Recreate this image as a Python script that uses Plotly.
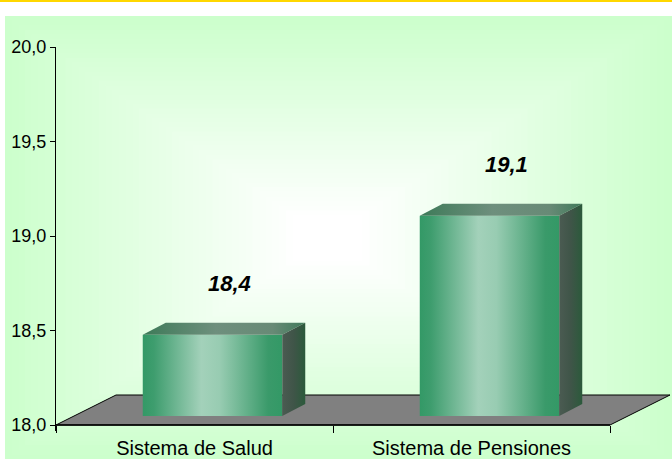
import plotly.graph_objects as go

# ---------------- data ----------------
categories = ["Sistema de Salud", "Sistema de Pensiones"]
values = [18.43, 19.06]
y_ticks = [18.0, 18.5, 19.0, 19.5, 20.0]
y_min, y_max = 18.0, 20.0

# ---------------- geometry / style ----------------
W, H = 672, 459
L_PX, T_PX, B_PX = 56, 47, 425          # plot-area pixel anchors (y_max at T_PX, y_min at B_PX)
px_per_cat = 277.0
px_per_unit = (B_PX - T_PX) / (y_max - y_min)
y_lo = y_min - 5.5 / px_per_unit         # small pad so floor edge is not clipped

x_lo = -0.5
x_hi = x_lo + (W - L_PX) / px_per_cat


def cx(px):
    return px / px_per_cat


def cy(px):
    return px / px_per_unit


half_w = cx(139.5) / 2
bar_dx, bar_dy = cx(18), cy(9)        # bar position inside floor depth
dep_dx, dep_dy = cx(23), cy(12)       # bar depth
floor_dx, floor_dy = cx(60), cy(30)   # floor depth

FONT = "Arial, 'Liberation Sans', sans-serif"

fig = go.Figure()

# invisible helper trace on full-figure axes (keeps subplot order: background first)
fig.add_trace(go.Scatter(x=[], y=[], xaxis="x", yaxis="y", showlegend=False))

# floor
n = len(categories)
fl_x = [x_lo, x_lo + n, x_lo + n + floor_dx, x_lo + floor_dx, x_lo]
fl_y = [y_min, y_min, y_min + floor_dy, y_min + floor_dy, y_min]
fig.add_trace(go.Scatter(
    x=fl_x, y=fl_y, mode="lines", fill="toself", fillcolor="#808080",
    line=dict(color="#000000", width=1), hoverinfo="skip", showlegend=False,
    xaxis="x2", yaxis="y2"))
fig.add_trace(go.Scatter(
    x=[x_lo, x_lo + n], y=[y_min, y_min], mode="lines",
    line=dict(color="#000000", width=1.6), hoverinfo="skip", showlegend=False,
    xaxis="x2", yaxis="y2"))

front_cs = [[0.0, "#339966"], [0.08, "#3E9D6E"], [0.42, "#A3D1BA"], [0.55, "#98CCB2"],
            [0.9, "#3A9A6A"], [1.0, "#339966"]]
top_cs = [[0.0, "#3D7A58"], [0.45, "#6E8F7D"], [0.8, "#688A76"], [1.0, "#3F7A5A"]]
side_cs = [[0.0, "#4B5B52"], [0.5, "#3F5548"], [1.0, "#2B5A3B"]]

for i, v in enumerate(values):
    xl = i + bar_dx - half_w
    xr = i + bar_dx + half_w
    base = y_min + bar_dy
    top = v + bar_dy
    # front face
    fig.add_trace(go.Scatter(
        x=[xl, xr, xr, xl, xl], y=[base, base, top, top, base],
        mode="lines", line=dict(width=0), fill="toself",
        fillgradient=dict(type="horizontal", colorscale=front_cs),
        hoverinfo="skip", showlegend=False, xaxis="x2", yaxis="y2"))
    # top face
    fig.add_trace(go.Scatter(
        x=[xl, xr, xr + dep_dx, xl + dep_dx, xl],
        y=[top, top, top + dep_dy, top + dep_dy, top],
        mode="lines", line=dict(width=0), fill="toself",
        fillgradient=dict(type="horizontal", colorscale=top_cs),
        hoverinfo="skip", showlegend=False, xaxis="x2", yaxis="y2"))
    # side face
    fig.add_trace(go.Scatter(
        x=[xr, xr + dep_dx, xr + dep_dx, xr, xr],
        y=[base, base + dep_dy, top + dep_dy, top, base],
        mode="lines", line=dict(width=0), fill="toself",
        fillgradient=dict(type="horizontal", colorscale=side_cs),
        hoverinfo="skip", showlegend=False, xaxis="x2", yaxis="y2"))
    # value label
    fig.add_annotation(
        x=i + bar_dx + cx(17), y=top, xref="x2", yref="y2",
        text=f"{v:.1f}".replace(".", ","), showarrow=False,
        yshift=51, yanchor="middle",
        font=dict(family=FONT, size=22, color="#000000", weight="bold", style="italic"))

# helper trace for tick axis
fig.add_trace(go.Scatter(x=[], y=[], xaxis="x3", yaxis="y2", showlegend=False))

# ---- background: rectangular (path) gradient green -> white, as nested rects ----
bg_l, bg_t, bg_r, bg_b = 5, 16, W, H
c_x, c_y = 326, 238
shapes = []
steps = 48
g0 = (0xCC, 0xFF, 0xCC)
for k in range(steps):
    t = k / steps
    w = min(1.0, t / 0.9)
    col = "rgb({},{},{})".format(round(g0[0] + (255 - g0[0]) * w),
                                 255, round(g0[2] + (255 - g0[2]) * w))
    l = bg_l + (c_x - bg_l) * t
    r = bg_r + (c_x - bg_r) * t
    tp = bg_t + (c_y - bg_t) * t
    bt = bg_b + (c_y - bg_b) * t
    shapes.append(dict(type="rect", xref="paper", yref="paper",
                       x0=l / W, x1=r / W, y0=1 - bt / H, y1=1 - tp / H,
                       fillcolor=col, line=dict(width=0), layer="below"))
shapes.append(dict(type="rect", xref="paper", yref="paper",
                   x0=0, x1=1, y0=1 - 2 / H, y1=1,
                   fillcolor="#FFD700", line=dict(width=0), layer="above"))

dom_bottom = (H - (B_PX + (y_min - y_lo) * px_per_unit)) / H
dom_top = (H - T_PX) / H

fig.update_layout(
    template="none",
    width=W, height=H, autosize=False,
    margin=dict(l=0, r=0, t=0, b=0, pad=0, autoexpand=False),
    paper_bgcolor="#FFFFFF", plot_bgcolor="rgba(0,0,0,0)",
    separators=",.",
    showlegend=False,
    font=dict(family=FONT, color="#000000"),
    xaxis=dict(domain=[0, 1], range=[0, W], visible=False, fixedrange=True,
               automargin=False),
    yaxis=dict(domain=[0, 1], range=[H, 0], visible=False, fixedrange=True,
               automargin=False),
    xaxis2=dict(domain=[L_PX / W, 1], range=[x_lo, x_hi], anchor="y2",
                tickmode="array", tickvals=list(range(n)), ticktext=categories,
                ticks="", showline=False, showgrid=False, zeroline=False,
                tickfont=dict(family=FONT, size=20, color="#000000"),
                ticklabelstandoff=3, automargin=False),
    xaxis3=dict(overlaying="x2", range=[x_lo, x_hi], anchor="free",
                position=(H - B_PX) / H, side="bottom",
                tickmode="array", tickvals=[x_lo + k for k in range(n + 1)],
                ticks="outside", ticklen=7, tickcolor="#000000", tickwidth=1,
                showticklabels=False, showline=False, showgrid=False, zeroline=False,
                automargin=False),
    yaxis2=dict(domain=[dom_bottom, dom_top], range=[y_lo, y_max], anchor="x2",
                tickmode="array", tickvals=y_ticks, tickformat=".1f",
                ticks="outside", ticklen=5, tickcolor="#000000",
                showline=True, linecolor="#000000", linewidth=1,
                showgrid=False, zeroline=False, automargin=False,
                tickfont=dict(family=FONT, size=18, color="#000000")),
    shapes=shapes,
)

fig.write_html(
    "out.html",
    config={"displayModeBar": False, "responsive": False},
    post_script=(
        "document.documentElement.style.margin='0';"
        "document.documentElement.style.overflow='hidden';"
        "document.body.style.margin='0';document.body.style.padding='0';"
        "document.body.style.overflow='hidden';"
        "var d=document.querySelector('.plotly-graph-div');"
        "d.style.position='fixed';d.style.left='0px';d.style.top='0px';"
    ),
)
